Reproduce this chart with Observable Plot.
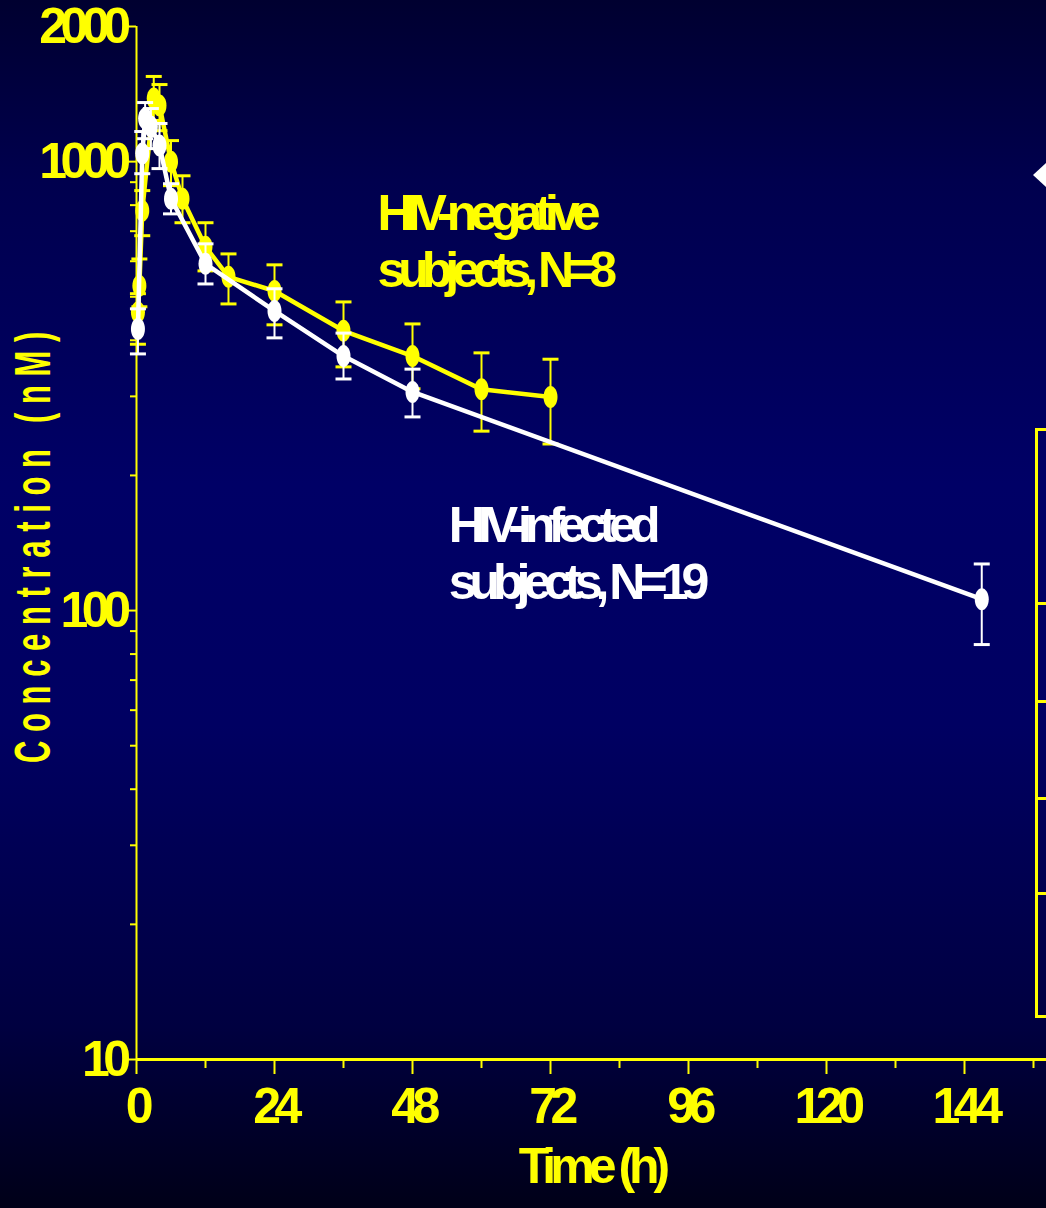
<!DOCTYPE html>
<html>
<head>
<meta charset="utf-8">
<script src="https://cdn.jsdelivr.net/npm/d3@7"></script>
<script src="https://cdn.jsdelivr.net/npm/@observablehq/plot@0.6"></script>
<style>
  html, body { margin: 0; padding: 0; }
  body {
    width: 1046px; height: 1208px; overflow: hidden; position: relative;
    background: linear-gradient(to bottom, #000030 0%, #00004e 15%, #000066 40%, #000062 60%, #000040 85%, #000018 100%);
    font-family: "Liberation Sans", Arial, sans-serif;
  }
  #chart { position: absolute; left: 0; top: 0; }
  .deco { position: absolute; }
</style>
</head>
<body>
<div id="chart"></div>
<script>
// ---------------- data ----------------
// HIV-negative subjects, N=8 (yellow)
const negTime = [0.25, 0.5, 1, 3, 4, 6, 8, 12, 16, 24, 36, 48, 60, 72];
const negMean = [462, 529, 777, 1382, 1334, 1000, 827, 646, 554, 515, 420, 369, 311, 299];
const negLow  = [392, 475, 684, 1235, 1172, 884, 731, 571, 482, 433, 349, 312, 251, 235];
const negHigh = [508, 607, 862, 1548, 1485, 1114, 930, 731, 623, 589, 487, 435, 375, 363];

// HIV-infected subjects, N=19 (white)
const posTime = [0.25, 1, 1.5, 2.5, 4, 6, 12, 24, 36, 48, 147];
const posMean = [424, 1042, 1247, 1197, 1086, 827, 592, 465, 369, 307, 106];
const posLow  = [373, 940, 1125, 1069, 965, 765, 534, 405, 328, 270, 84];
const posHigh = [470, 1167, 1354, 1313, 1216, 893, 656, 521, 415, 345, 127];

// axes
const xMajorTicks = [0, 24, 48, 72, 96, 120, 144];
const xMinorTicks = [12, 36, 60, 84, 108, 132, 156];
const yMajorTicks = [10, 100, 1000, 2000];
const yMinorTicks = [20, 30, 40, 50, 60, 70, 80, 90, 200, 300, 400, 500, 600, 700, 800, 900];
const xLabel = "Time (h)";
const yLabel = "Concentration (nM)";

// annotations
const noteText = ["HIV-negative\nsubjects, N=8", "HIV-infected\nsubjects, N=19"];
const noteTime = [41.9, 54.3];
const noteConc = [866, 175];
const noteColor = ["#ffff00", "#ffffff"];

// ---------------- build ----------------
const YELLOW = "#ffff00";
const WHITE = "#ffffff";
const neg = negTime.map((t, i) => ({t, m: negMean[i], lo: negLow[i], hi: negHigh[i]}));
const pos = posTime.map((t, i) => ({t, m: posMean[i], lo: posLow[i], hi: posHigh[i]}));
const notes = noteText.map((text, i) => ({text, t: noteTime[i], c: noteConc[i], color: noteColor[i]}));

const ellipse = {
  draw(ctx) {
    const rx = 7, ry = 11, k = 0.5523;
    ctx.moveTo(rx, 0);
    ctx.bezierCurveTo(rx, ry * k, rx * k, ry, 0, ry);
    ctx.bezierCurveTo(-rx * k, ry, -rx, ry * k, -rx, 0);
    ctx.bezierCurveTo(-rx, -ry * k, -rx * k, -ry, 0, -ry);
    ctx.bezierCurveTo(rx * k, -ry, rx, -ry * k, rx, 0);
    ctx.closePath();
  }
};
const cap = { draw(ctx) { ctx.moveTo(-8, 0); ctx.lineTo(8, 0); } };

function series(data, color) {
  return [
    Plot.ruleX(data, {x: "t", y1: "lo", y2: "hi", stroke: color, strokeWidth: 2}),
    Plot.dot(data, {x: "t", y: "hi", symbol: cap, stroke: color, strokeWidth: 3}),
    Plot.dot(data, {x: "t", y: "lo", symbol: cap, stroke: color, strokeWidth: 3}),
    Plot.line(data, {x: "t", y: "m", stroke: color, strokeWidth: 4.5, strokeLinejoin: "round"}),
    Plot.dot(data, {x: "t", y: "m", symbol: ellipse, fill: color, stroke: null})
  ];
}

const tickFont = {fontSize: 50, fontWeight: "bold", fill: YELLOW};

const chart = Plot.plot({
  width: 1046,
  height: 1208,
  marginLeft: 136,
  marginRight: 0,
  marginTop: 26,
  marginBottom: 149,
  style: {background: "transparent", color: YELLOW, fontFamily: "'Liberation Sans', Arial, sans-serif", overflow: "visible"},
  x: {domain: [0, 910 / 5.75], label: null},
  y: {type: "log", domain: [10, 2000], label: null},
  marks: [
    // minor ticks
    Plot.axisX(xMinorTicks, {tickSize: 9, strokeWidth: 2, stroke: YELLOW, tickFormat: () => "", label: null}),
    Plot.axisY(yMinorTicks, {tickSize: 6, strokeWidth: 2, stroke: YELLOW, tickFormat: () => "", label: null}),
    // major ticks with labels
    Plot.axisX(xMajorTicks, {tickSize: 15, tickPadding: 13, strokeWidth: 2, stroke: YELLOW, tickFormat: d => String(d), label: null, ...tickFont}),
    Plot.axisY(yMajorTicks, {tickSize: 9, tickPadding: 3, strokeWidth: 2, stroke: YELLOW, tickFormat: d => String(d), label: null, ...tickFont}),
    // axis lines
    Plot.ruleY([10], {stroke: YELLOW, strokeWidth: 3}),
    Plot.ruleX([0], {y1: 10, y2: 2000, stroke: YELLOW, strokeWidth: 2}),
    // axis titles
    Plot.text([xLabel], {text: d => d, frameAnchor: "bottom", dy: 123, fontSize: 50, fontWeight: "bold", fill: YELLOW}),
    Plot.text([yLabel], {text: d => d, frameAnchor: "left", textAnchor: "middle", dx: -103, rotate: -90, fontSize: 50, fontWeight: "bold", fill: YELLOW}),
    // series
    ...series(neg, YELLOW),
    ...series(pos, WHITE),
    // annotations
    Plot.text(notes, {x: "t", y: "c", text: "text", fill: "color", textAnchor: "start", lineAnchor: "top", lineHeight: 1.14, fontSize: 50, fontWeight: "bold"})
  ]
});

const svg = d3.select(chart);
svg.selectAll('g[aria-label="x-axis tick label"] text, g[aria-label="y-axis tick label"] text').style("letter-spacing", "-6.5px");
svg.selectAll("text").each(function() {
  const el = d3.select(this);
  const s = this.textContent;
  if (s === xLabel) el.style("letter-spacing", "-6px");
  else if (s === yLabel) {
    el.attr("transform", (el.attr("transform") || "") + " scale(0.62,1)").style("letter-spacing", "14px");
  } else if (noteText.some(n => n.replace(/\n/g, "") === s)) {
    el.style("letter-spacing", "-7px");
  }
});
document.getElementById("chart").appendChild(chart);

// cropped slide decorations at the right edge (bullet and table frame)
const deco = document.body;
function div(css) { const d = document.createElement("div"); d.className = "deco"; d.style.cssText = css; deco.appendChild(d); }
div("left:1033px;top:163px;width:0;height:0;border-top:12px solid transparent;border-bottom:12px solid transparent;border-right:13px solid #fff;");
div("left:1035px;top:428px;width:20px;height:584px;border:3px solid #ffff00;border-right:none;");
[602, 700, 797, 892].forEach(y => div(`left:1035px;top:${y}px;width:20px;height:3px;background:#ffff00;`));
</script>
</body>
</html>
